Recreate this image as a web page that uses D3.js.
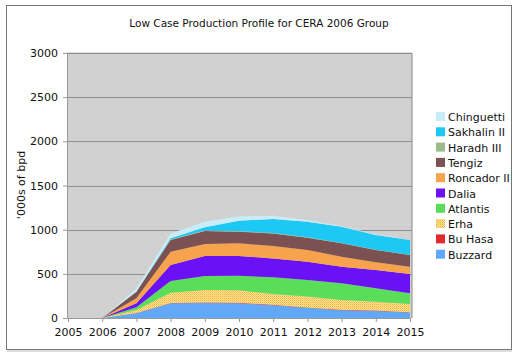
<!DOCTYPE html>
<html><head><meta charset="utf-8">
<script src="https://cdn.jsdelivr.net/npm/d3@7"></script>
<style>body{margin:0;background:#fff;} text{font-family:"DejaVu Sans",Verdana,sans-serif;}</style>
</head><body>
<svg id="chart" width="519" height="357"></svg>
<script>
const years = [2005,2006,2007,2008,2009,2010,2011,2012,2013,2014,2015];
const seriesNames = ["Buzzard","Bu Hasa","Erha","Atlantis","Dalia","Roncador II","Tengiz","Haradh III","Sakhalin II","Chinguetti"];
const buzzard    = [0,0,53,166,170,168,145,115,89,80,62];
const buHasa     = [0,0,3,5,5,5,5,5,5,5,4];
const erha       = [0,0,35,116,142,140,122,122,110,100,92];
const atlantis   = [0,0,30,132,158,166,188,188,188,151,121];
const dalia      = [0,0,45,181,227,223,215,208,189,207,219];
const roncador   = [0,0,57,150,136,143,140,132,113,87,83];
const tengiz     = [0,0,75,133,147,132,143,139,151,140,132];
const haradh     = [0,0,0,5,5,5,5,5,4,4,3];
const sakhalin   = [0,0,0,15,36,120,157,176,185,166,167];
const chinguetti = [0,0,35,55,64,49,38,19,7,7,3];
const yTicks = [0,500,1000,1500,2000,2500,3000];
const colors = ["#5fa8f8","#e02a30","#f8e48a","#5ade5a","#6a12f5","#f7a24c","#7b5152","#9cbb8a","#1ec8f5","#c8ecf8"];
const seriesVals = [buzzard,buHasa,erha,atlantis,dalia,roncador,tengiz,haradh,sakhalin,chinguetti];

const rows = years.map((y,i)=>{const r={year:y}; seriesNames.forEach((n,k)=>r[n]=seriesVals[k][i]); return r;});
const svg = d3.select("#chart");
const defs = svg.append("defs");
const pBg = defs.append("pattern").attr("id","bgp").attr("width",8).attr("height",8).attr("patternUnits","userSpaceOnUse");
pBg.append("rect").attr("width",8).attr("height",8).attr("fill","#d1d1d1");
pBg.append("rect").attr("x",1).attr("y",2).attr("width",1).attr("height",1).attr("fill","#c2c2c2");
pBg.append("rect").attr("x",5).attr("y",6).attr("width",1).attr("height",1).attr("fill","#c6c6c6");
const pE = defs.append("pattern").attr("id","erha").attr("width",2).attr("height",2).attr("patternUnits","userSpaceOnUse");
pE.append("rect").attr("width",2).attr("height",2).attr("fill","#fae690");
pE.append("rect").attr("x",0).attr("y",0).attr("width",1).attr("height",1).attr("fill","#f2ad45");
pE.append("rect").attr("x",1).attr("y",1).attr("width",1).attr("height",1).attr("fill","#f6c860");
const pB = defs.append("pattern").attr("id","buzz").attr("width",7).attr("height",7).attr("patternUnits","userSpaceOnUse");
pB.append("rect").attr("width",7).attr("height",7).attr("fill","#60a8f8");
pB.append("rect").attr("x",2).attr("y",3).attr("width",1).attr("height",1).attr("fill","#b080e0");
const fills = colors.map((c,i)=> i===0 ? "url(#buzz)" : i===2 ? "url(#erha)" : c);

svg.append("rect").attr("x",6.5).attr("y",5.5).attr("width",505).attr("height",344)
  .attr("fill","#fff").attr("stroke","#777").attr("stroke-width",1);
svg.append("line").attr("x1",7).attr("x2",512).attr("y1",351).attr("y2",351).attr("stroke","#bbb");

const x = d3.scaleLinear().domain([2005,2015]).range([68,410]);
const y = d3.scaleLinear().domain([0,3000]).range([318,53]);

svg.append("rect").attr("x",67).attr("y",53).attr("width",345).attr("height",265).attr("fill","url(#bgp)");
svg.append("line").attr("x1",412).attr("x2",412).attr("y1",53).attr("y2",318).attr("stroke","#888");
svg.append("line").attr("x1",67).attr("x2",412).attr("y1",53).attr("y2",53).attr("stroke","#bbb");

svg.append("g").selectAll("line").data(yTicks.filter(d=>d>0)).join("line")
  .attr("x1",67).attr("x2",412).attr("y1",d=>Math.round(y(d))+0.5).attr("y2",d=>Math.round(y(d))+0.5)
  .attr("stroke","#8e8e8e").attr("stroke-width",1);

const stack = d3.stack().keys(seriesNames);
const layers = stack(rows);
const area = d3.area().x(d=>x(d.data.year)).y0(d=>y(d[0])).y1(d=>y(d[1]));
svg.append("g").selectAll("path").data(layers).join("path")
  .attr("d",area).attr("fill",(d,i)=>fills[i]);

const yAxis = d3.axisLeft(y).tickValues(yTicks).tickFormat(d3.format("d")).tickSize(4).tickPadding(5);
const gy = svg.append("g").attr("transform","translate(67,0)").call(yAxis);
gy.select(".domain").attr("stroke","#999");
gy.selectAll(".tick line").attr("stroke","#999");
gy.selectAll("text").attr("font-size",11).attr("fill","#111");

const xAxis = d3.axisBottom(x).tickValues(years).tickFormat(d3.format("d")).tickSize(4).tickPadding(6);
const gx = svg.append("g").attr("transform","translate(0,318)").call(xAxis);
gx.select(".domain").attr("stroke","#999");
gx.selectAll(".tick line").attr("stroke","#999");
gx.selectAll("text").attr("font-size",11).attr("fill","#111");

svg.append("text").attr("x",259).attr("y",27).attr("text-anchor","middle")
  .attr("font-size",10.5).attr("fill","#111").text("Low Case Production Profile for CERA 2006 Group");
svg.append("text").attr("transform","translate(25,185) rotate(-90)").attr("text-anchor","middle")
  .attr("font-size",11).attr("fill","#111").text("'000s of bpd");

const legendNames = seriesNames.slice().reverse();
const lg = svg.append("g");
legendNames.forEach((n,i)=>{
  const k = seriesNames.indexOf(n);
  const yy = 117 + i*15.3;
  lg.append("rect").attr("x",436).attr("y",yy-5).attr("width",9).attr("height",9).attr("fill",fills[k]);
  lg.append("text").attr("x",448).attr("y",yy+4).attr("font-size",11).attr("fill","#111").text(n);
});
</script>
</body></html>
